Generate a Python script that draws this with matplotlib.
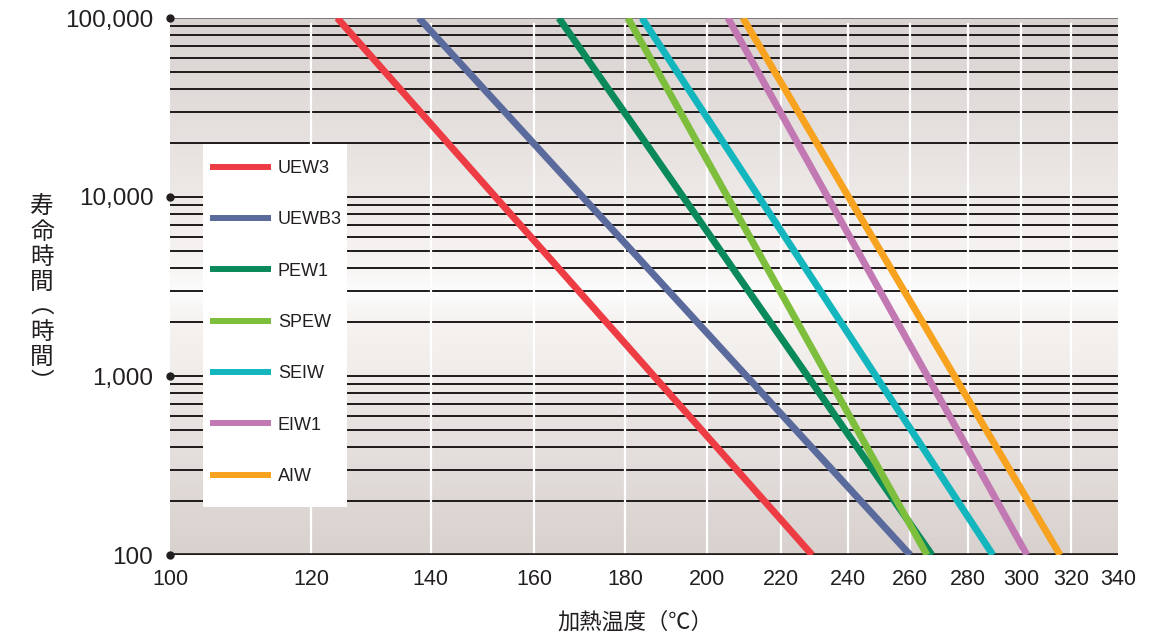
import matplotlib
matplotlib.use("Agg")
import matplotlib.pyplot as plt
import matplotlib.patheffects as pe
from matplotlib.colors import LinearSegmentedColormap
from matplotlib.patches import Rectangle
import numpy as np

plt.rcParams["font.family"] = ["Liberation Sans", "Noto Sans CJK JP", "DejaVu Sans"]

# data: each grade is a straight line (log-log) from 100,000 h down to 100 h
grades = ["UEW3", "UEWB3", "PEW1", "SPEW", "SEIW", "EIW1", "AIW"]
colors = ["#ee3c45", "#5a6a9c", "#0a8a5a", "#7dbe3c", "#13b6bd", "#c278b3", "#f7a31f"]
temp_at_100k = [124.1, 137.9, 165.2, 180.6, 183.9, 205.5, 209.5]
temp_at_100 = [229.1, 260.0, 267.4, 265.7, 289.3, 302.3, 315.5]
life_hours = [100000, 100]

x_ticks = [100, 120, 140, 160, 180, 200, 220, 240, 260, 280, 300, 320, 340]
y_major = [100, 1000, 10000, 100000]
y_labels = ["100", "1,000", "10,000", "100,000"]

fig = plt.figure(figsize=(11.73, 6.41), dpi=100)
ax = fig.add_axes([170 / 1173, 1 - 555 / 641, 948 / 1173, 537 / 641])
ax.set_xscale("log")
ax.set_yscale("log")
ax.set_xlim(100, 340)
ax.set_ylim(100, 100000)

# background gradient (bright band around 2,000 h)
stops = [
    (0.00, (216, 209, 206)),
    (0.25, (232, 227, 225)),
    (0.33, (240, 236, 234)),
    (0.44, (246, 243, 241)),
    (0.49, (253, 253, 253)),
    (0.53, (248, 246, 245)),
    (0.66, (238, 234, 232)),
    (1.00, (216, 210, 208)),
]
cmap = LinearSegmentedColormap.from_list(
    "bg", [(p, tuple(c / 255 for c in rgb)) for p, rgb in stops]
)
grad = np.linspace(0, 1, 400).reshape(-1, 1)
ax.imshow(grad, cmap=cmap, aspect="auto", origin="lower",
          extent=[0, 1, 0, 1], transform=ax.transAxes, zorder=0)

# horizontal grid at every minor/major decade step
for dec in [100, 1000, 10000]:
    for k in range(1, 10):
        v = dec * k
        if v == 100:
            continue
        ax.axhline(v, color="#1e1a1a", lw=1.4, zorder=1)
ax.axhline(100000, color="#6b6666", lw=1.2, zorder=1)
ax.axhline(100, color="#1e1a1a", lw=2.6, zorder=3)

# white vertical separators
for t in x_ticks[1:-1]:
    ax.plot([t, t], [100, 92000], color="white", lw=1.6, zorder=2)

# life lines with soft shadow
shadow = [
    pe.SimpleLineShadow(offset=(4, -4), shadow_color="#6a6a7a", alpha=0.10, linewidth=14),
    pe.SimpleLineShadow(offset=(3, -3), shadow_color="#6a6a7a", alpha=0.12, linewidth=9),
    pe.Normal(),
]
for name, c, t_hi, t_lo in zip(grades, colors, temp_at_100k, temp_at_100):
    ax.plot([t_hi, t_lo], life_hours, color=c, lw=5, solid_capstyle="butt",
            label=name, zorder=4, path_effects=shadow)

# axes decoration
for s in ax.spines.values():
    s.set_visible(False)
ax.set_xticks(x_ticks)
ax.set_xticklabels([str(t) for t in x_ticks])
ax.xaxis.set_minor_locator(matplotlib.ticker.NullLocator())
ax.set_yticks(y_major)
ax.set_yticklabels(y_labels)
ax.yaxis.set_minor_locator(matplotlib.ticker.NullLocator())
ax.tick_params(axis="x", length=0, pad=10, labelsize=15.5, labelcolor="#231f20")
ax.tick_params(axis="y", length=0, pad=12, labelsize=17.5, labelcolor="#231f20")
ax.plot([100] * 4, y_major, "o", color="#231f20", ms=5, clip_on=False, zorder=6)

# legend on white panel
fig.patches.append(Rectangle((203 / 1173, 1 - 507 / 641), 144 / 1173, 363 / 641,
                             transform=fig.transFigure, facecolor="white",
                             edgecolor="none", zorder=5))
handles, labels = ax.get_legend_handles_labels()
for h in handles:
    h.set_path_effects([])
leg = fig.legend(handles, labels, loc="upper left",
                 bbox_to_anchor=(210 / 1173, 1 - 160 / 641),
                 frameon=False, fontsize=13, handlelength=3.4, handletextpad=0.35,
                 labelspacing=1.9, borderpad=0, borderaxespad=0)
leg.set_zorder(6)
for line in leg.get_lines():
    line.set_linewidth(4.3)
for txt in leg.get_texts():
    txt.set_color("#231f20")

# axis titles
fig.text(635 / 1173, 1 - 622 / 641, "加熱温度（℃）", ha="center", va="center",
         fontsize=16, color="#231f20", family=["Noto Sans CJK JP", "DejaVu Sans"])
fig.text(42 / 1173, 1 - 295 / 641, "\n".join("寿命時間︵時間︶"), ha="center",
         va="center", fontsize=17, color="#231f20", linespacing=1.12,
         family=["Noto Sans CJK JP", "DejaVu Sans"])

fig.savefig("out.png", dpi=100)
